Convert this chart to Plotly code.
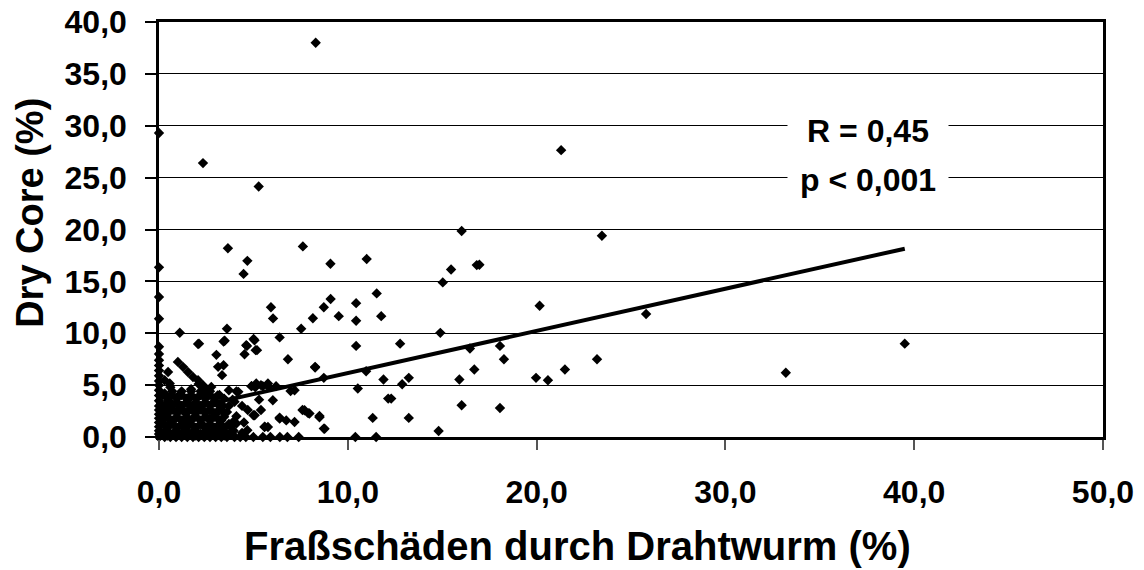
import plotly.graph_objects as go

# Scatter data: feeding damage by wireworm (%) vs dry core (%)
x_col0 = [0, 0, 0, 0, 0, 0, 0, 0, 0, 0, 0, 0, 0, 0, 0, 0, 0, 0, 0, 0, 0, 0, 0, 0]
y_col0 = [0, 0.3, 0.6, 1.0, 1.4, 1.8, 2.2, 2.6, 3.0, 3.5, 4.0, 4.5, 5.0, 5.4, 5.9, 6.4, 6.9, 7.4, 8.0, 8.7, 11.4, 13.5, 16.35, 29.3]

x_row0 = [0.3, 0.6, 0.9, 1.2, 1.5, 1.8, 2.1, 2.4, 2.7, 3.0, 3.3, 3.6, 4.0, 4.3, 4.6, 5.0, 5.5, 5.9, 6.4, 6.8, 7.4, 10.4, 11.5]
y_row0 = [0, 0, 0, 0, 0, 0, 0, 0, 0, 0, 0, 0, 0, 0, 0, 0, 0, 0, 0, 0, 0, 0, 0]

x_cluster = [0.3, 0.5, 0.4, 0.3, 0.5, 0.3, 0.6, 0.8, 0.9, 1.0, 0.9, 1.1, 1.3, 1.2,
             1.5, 1.4, 1.6, 1.7, 1.8, 1.9, 2.0, 2.1, 2.3, 2.4, 2.5, 2.6, 2.7, 2.8,
             3.0, 3.1, 3.2, 3.3, 3.4, 3.6, 3.7, 3.8, 3.9, 4.1, 4.2, 4.4, 4.5, 4.7,
             4.9, 5.0, 5.3, 5.6, 5.5, 5.1, 0.3, 0.57, 0.48, 1.0, 1.27, 1.53, 1.8,
             2.07, 2.33, 2.77, 3.13, 3.34, 3.42, 2.1, 2.5, 4.1, 4.68, 5.07, 5.77,
             6.03, 6.39, 6.74, 7.18, 7.6, 7.9, 8.5, 8.77, 5.15, 5.77, 7.18, 1.1,
             0.2, 0.7, 1.2, 1.7, 2.2, 2.7, 3.2, 3.7, 0.45, 0.95, 1.45, 1.95, 2.45,
             2.95, 3.45, 0.2, 0.7, 1.2, 1.7, 2.2, 2.7, 3.2, 0.45, 0.95, 1.45, 1.95,
             2.45, 2.95, 3.45, 0.2, 0.7, 1.2, 1.7, 2.2, 2.7, 3.2, 3.7, 0.45, 0.95,
             1.45, 1.95, 2.45, 2.95, 3.45, 0.7, 1.2, 1.7, 2.2, 2.7, 4.4, 4.0, 5.4,
             0.45, 0.95, 1.45, 1.95, 2.45, 2.95, 3.45, 3.95,
             0.2, 0.7, 1.2, 1.7, 2.2, 2.7, 3.2, 3.7,
             0.45, 0.95, 1.45, 1.95, 2.45, 2.95, 3.45,
             0.2, 0.7, 1.2, 1.7, 2.2, 2.7, 3.2,
             0.45, 0.95, 1.45, 1.95, 2.45, 2.95,
             0.2, 0.7, 1.2, 1.7, 2.2, 2.7, 3.2,
             0.45, 0.95, 1.45, 1.95, 2.45, 2.95, 3.45, 3.95]
y_cluster = [0.5, 1.2, 2.0, 2.8, 3.5, 4.2, 4.8, 0.4, 1.8, 2.6, 3.3, 4.1, 0.9, 3.0,
             1.5, 2.3, 3.7, 4.6, 0.5, 2.0, 2.9, 3.9, 1.2, 2.5, 4.3, 0.6, 1.8, 3.2,
             2.2, 4.0, 0.9, 1.6, 3.0, 2.4, 4.5, 1.0, 3.6, 2.0, 4.35, 3.0, 1.4, 2.6,
             4.9, 2.1, 3.6, 1.0, 4.9, 4.8, 5.47, 5.15, 6.27, 7.24, 6.76, 6.27, 5.79,
             5.47, 4.99, 4.83, 6.76, 5.96, 6.92, 5.1, 4.5, 1.3, 0.65, 2.1, 0.97,
             3.54, 1.77, 1.6, 1.45, 2.6, 2.3, 1.9, 0.8, 5.15, 5.15, 4.5, 2.6,
             0.3, 0.3, 0.3, 0.3, 0.3, 0.3, 0.3, 0.3, 0.9, 0.9, 0.9, 0.9, 0.9,
             0.9, 0.9, 1.6, 1.6, 1.6, 1.6, 1.6, 1.6, 1.6, 2.3, 2.3, 2.3, 2.3,
             2.3, 2.3, 2.3, 3.0, 3.0, 3.0, 3.0, 3.0, 3.0, 3.0, 3.0, 3.7, 3.7,
             3.7, 3.7, 3.7, 3.7, 3.7, 4.4, 4.4, 4.4, 4.4, 4.4, 0.4, 3.4, 2.6,
             0.6, 0.6, 0.6, 0.6, 0.6, 0.6, 0.6, 0.6,
             1.25, 1.25, 1.25, 1.25, 1.25, 1.25, 1.25, 1.25,
             1.95, 1.95, 1.95, 1.95, 1.95, 1.95, 1.95,
             2.65, 2.65, 2.65, 2.65, 2.65, 2.65, 2.65,
             3.35, 3.35, 3.35, 3.35, 3.35, 3.35,
             4.05, 4.05, 4.05, 4.05, 4.05, 4.05, 4.05,
             0.15, 0.15, 0.15, 0.15, 0.15, 0.15, 0.15, 0.15]

x_scatter = [8.3, 2.33, 5.28, 21.3, 23.46, 16.03, 7.62, 3.65, 4.68, 4.48, 9.08,
             11.0, 15.47, 16.83, 15.03, 11.53, 25.8, 20.16, 39.5, 33.2, 23.2,
             21.5, 19.97, 20.6, 18.06, 18.27, 18.06, 16.47, 16.03, 15.91, 16.7,
             14.81, 14.9, 13.23, 12.88, 12.77, 13.23, 12.14, 12.3, 11.89, 11.77,
             11.32, 10.97, 10.53, 10.44, 10.44, 10.44, 9.09, 9.52, 8.73, 8.15,
             7.53, 8.27, 8.73, 7.71, 7.97, 8.5, 8.73, 1.1, 2.07, 3.42, 3.04,
             3.6, 5.93, 6.04, 6.39, 4.62, 5.12, 4.53, 5.01, 6.83, 8.27, 4.66,
             5.19, 5.06, 3.48, 2.12, 4.1, 4.9, 5.4, 5.8, 6.2, 6.97, 6.39, 5.59,
             3.92, 16.97]
y_scatter = [38.0, 26.4, 24.15, 27.65, 19.4, 19.86, 18.37, 18.2, 16.98, 15.72,
             16.7, 17.15, 16.15, 16.57, 14.9, 13.84, 11.85, 12.65, 9.0, 6.2, 7.5,
             6.5, 5.7, 5.47, 8.78, 7.5, 2.8, 8.53, 3.06, 5.54, 6.5, 0.58, 10.04,
             5.7, 5.09, 9.0, 1.84, 3.7, 3.7, 5.54, 11.65, 1.84, 6.34, 4.67, 12.9,
             11.2, 8.78, 13.3, 11.65, 12.5, 11.45, 10.43, 6.76, 5.7, 2.58, 2.26,
             2.03, 0.81, 10.05, 8.97, 9.2, 7.92, 10.43, 12.5, 11.43, 9.6, 8.85,
             8.37, 7.98, 9.45, 7.5, 6.7, 8.78, 8.37, 9.33, 9.27, 9.0, 4.4, 4.9,
             5.0, 4.85, 4.9, 4.44, 1.87, 0.97, 1.45, 16.6]

x_vals = x_col0 + x_row0 + x_cluster + x_scatter
y_vals = y_col0 + y_row0 + y_cluster + y_scatter

# Linear trend line end points
trend_x = [0.0, 39.5]
trend_y = [2.1, 18.15]

x_tickvals = [0, 10, 20, 30, 40, 50]
x_ticktext = ["0,0", "10,0", "20,0", "30,0", "40,0", "50,0"]
y_tickvals = [0, 5, 10, 15, 20, 25, 30, 35, 40]
y_ticktext = ["0,0", "5,0", "10,0", "15,0", "20,0", "25,0", "30,0", "35,0", "40,0"]

x_title = "Fraßschäden durch Drahtwurm (%)"
y_title = "Dry Core (%)"
stats_text = ["R = 0,45", "p < 0,001"]
stats_y = [29.45, 24.8]

FONT = "Liberation Sans, Arial, sans-serif"

fig = go.Figure()
fig.add_trace(go.Scatter(
    x=x_vals, y=y_vals, mode="markers",
    marker=dict(symbol="diamond", size=8, color="black", line=dict(width=0)),
    showlegend=False, hoverinfo="skip", cliponaxis=False))
fig.add_trace(go.Scatter(
    x=trend_x, y=trend_y, mode="lines",
    line=dict(color="black", width=4),
    showlegend=False, hoverinfo="skip"))

for txt, yy in zip(stats_text, stats_y):
    fig.add_annotation(x=37.55, y=yy, xref="x", yref="y", text="<b>%s</b>" % txt,
                       showarrow=False, bgcolor="white", width=158, height=38,
                       font=dict(family=FONT, size=32, color="black"))

# axis titles (placed like the original, slightly off-centre)
fig.add_annotation(x=0.4428, y=-0.263, xref="paper", yref="paper",
                   text="<b>%s</b>" % x_title, showarrow=False,
                   xanchor="center", yanchor="middle",
                   font=dict(family=FONT, size=40, color="black"))
fig.add_annotation(x=-0.1367, y=0.54, xref="paper", yref="paper",
                   text="<b>%s</b>" % y_title, showarrow=False, textangle=-90,
                   xanchor="center", yanchor="middle",
                   font=dict(family=FONT, size=38, color="black"))

fig.update_layout(
    width=1144, height=570,
    margin=dict(l=159, r=41, t=22, b=133),
    paper_bgcolor="white", plot_bgcolor="white",
    font=dict(family=FONT, color="black"),
)
fig.update_xaxes(
    range=[0, 50], tickvals=x_tickvals, ticktext=x_ticktext,
    showgrid=False, zeroline=False, automargin=False,
    showline=True, linecolor="black", linewidth=2.5, mirror=True,
    ticks="outside", ticklen=10, tickwidth=2, tickcolor="#555555",
    tickfont=dict(family=FONT, size=32, color="black", weight="bold"),
    ticklabelstandoff=15,
)
fig.update_yaxes(
    range=[0, 40], tickvals=y_tickvals, ticktext=y_ticktext,
    showgrid=True, gridcolor="black", gridwidth=1, zeroline=False, automargin=False,
    showline=True, linecolor="black", linewidth=2.5, mirror=True,
    ticks="outside", ticklen=11, tickwidth=1.5, tickcolor="black",
    tickfont=dict(family=FONT, size=32, color="black", weight="bold"),
    ticklabelstandoff=12,
)

fig.write_html("out.html", config={"displayModeBar": False},
               post_script="document.body.style.margin='0';document.body.style.overflow='hidden';")
